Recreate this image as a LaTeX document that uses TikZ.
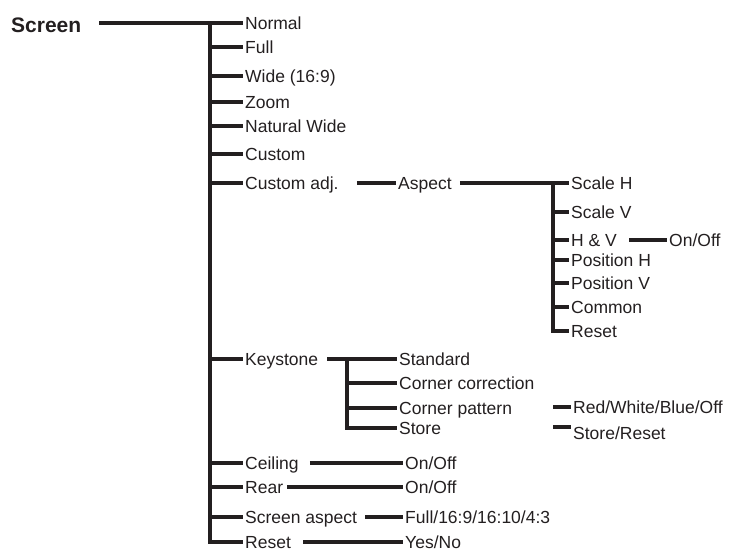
\documentclass[tikz,border=0pt]{standalone}
\usepackage{fontspec}
\setmainfont{Liberation Sans}
\usepackage{xcolor}
\usepackage{tikz}
\definecolor{ink}{HTML}{231F20}

\begin{document}
\begin{tikzpicture}[x=1pt, y=-1pt, item/.style={anchor=west,inner xsep=2pt,inner ysep=0pt,text height=12.5pt,text depth=0pt,font=\fontsize{17.5}{20}\selectfont,text=ink}, head/.style={item,text height=19pt,font=\fontsize{21}{24}\selectfont\bfseries}, wire/.style={draw=ink,line width=3.2pt}]
    \useasboundingbox (0,0) rectangle (747,553);
    \node[head] (scr) at (9,23) {Screen};
    \coordinate (t) at (210,23);
    \node[item] (nor) at (243,23) {Normal};
    \node[item] (ful) at (243,47) {Full};
    \node[item] (wid) at (243,76) {Wide (16:9)};
    \node[item] (zoo) at (243,102) {Zoom};
    \node[item] (nat) at (243,126) {Natural Wide};
    \node[item] (cus) at (243,154) {Custom};
    \node[item] (cad) at (243,183) {Custom adj.};
    \node[item] (asp) at (396,183) {Aspect};
    \coordinate (a) at (553,183);
    \node[item] (sch) at (569,183) {Scale H};
    \node[item] (scv) at (569,212) {Scale V};
    \node[item] (hav) at (569,240) {H \& V};
    \node[item] (hvo) at (667,240) {On/Off};
    \node[item] (poh) at (569,260) {Position H};
    \node[item] (pov) at (569,283) {Position V};
    \node[item] (com) at (569,307) {Common};
    \node[item] (ars) at (569,331) {Reset};
    \node[item] (key) at (243,359) {Keystone};
    \coordinate (k) at (347,359);
    \node[item] (std) at (397,359) {Standard};
    \node[item] (cco) at (397,383) {Corner correction};
    \node[item] (cpa) at (397,408) {Corner pattern};
    \node[item] (kst) at (397,428) {Store};
    \coordinate (rw) at (553,407);
    \node[item] (rwb) at (571,407) {Red/White/Blue/Off};
    \coordinate (sr) at (553,427);
    \node[item] (srs) at (571,433) {Store/Reset};
    \node[item] (cei) at (243,463) {Ceiling};
    \node[item] (ceo) at (403,463) {On/Off};
    \node[item] (rea) at (243,487) {Rear};
    \node[item] (reo) at (403,487) {On/Off};
    \node[item] (sas) at (243,517) {Screen aspect};
    \node[item] (sao) at (403,517) {Full/16:9/16:10/4:3};
    \node[item] (res) at (243,542) {Reset};
    \node[item] (yno) at (403,542) {Yes/No};
    \draw[wire] ([xshift=16pt]scr.east) -- (t) |- (res.west);
    \draw[wire] (t) -- (nor.west);
    \draw[wire] (t |- ful.west) -- (ful.west);
    \draw[wire] (t |- wid.west) -- (wid.west);
    \draw[wire] (t |- zoo.west) -- (zoo.west);
    \draw[wire] (t |- nat.west) -- (nat.west);
    \draw[wire] (t |- cus.west) -- (cus.west);
    \draw[wire] (t |- cad.west) -- (cad.west);
    \draw[wire] (t |- key.west) -- (key.west);
    \draw[wire] (t |- cei.west) -- (cei.west);
    \draw[wire] (t |- rea.west) -- (rea.west);
    \draw[wire] (t |- sas.west) -- (sas.west);
    \draw[wire] ([xshift=16pt]cad.east) -- (asp.west);
    \draw[wire] ([xshift=6pt]asp.east) -- (a) |- (ars.west);
    \draw[wire] (a) -- (sch.west);
    \draw[wire] (a |- scv.west) -- (scv.west);
    \draw[wire] (a |- hav.west) -- (hav.west);
    \draw[wire] (a |- poh.west) -- (poh.west);
    \draw[wire] (a |- pov.west) -- (pov.west);
    \draw[wire] (a |- com.west) -- (com.west);
    \draw[wire] ([xshift=10pt]hav.east) -- (hvo.west);
    \draw[wire] ([xshift=7pt]key.east) -- (k) |- (kst.west);
    \draw[wire] (k) -- (std.west);
    \draw[wire] (k |- cco.west) -- (cco.west);
    \draw[wire] (k |- cpa.west) -- (cpa.west);
    \draw[wire] (rw) -- (rwb.west);
    \draw[wire] (sr) -- (sr -| srs.west);
    \draw[wire] ([xshift=9pt]cei.east) -- (ceo.west);
    \draw[wire] ([xshift=2pt]rea.east) -- (reo.west);
    \draw[wire] ([xshift=6pt]sas.east) -- (sao.west);
    \draw[wire] ([xshift=10pt]res.east) -- (yno.west);
  \end{tikzpicture}
\end{document}
